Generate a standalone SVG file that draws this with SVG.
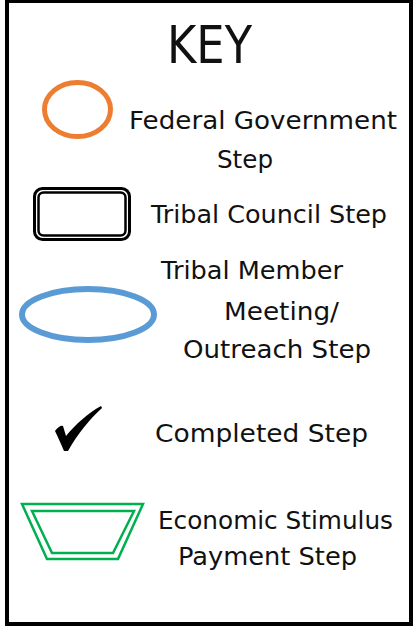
<svg xmlns="http://www.w3.org/2000/svg" width="417" height="626" viewBox="0 0 417 626">
<style>
.t{font-family:"DejaVu Sans","Liberation Sans",sans-serif;font-size:24px;fill:#111;}
.k{font-family:"DejaVu Sans","Liberation Sans",sans-serif;font-size:52px;fill:#111;}
</style>
<rect x="0" y="0" width="417" height="626" fill="#fff"/>
<g id="frame">
<rect x="7" y="1" width="404" height="623" fill="none" stroke="#000" stroke-width="4"/>
</g>
<g id="title">
<text class="k" x="167" y="63" textLength="85" lengthAdjust="spacingAndGlyphs">KEY</text>
</g>
<g id="federal">
<ellipse cx="77.5" cy="109.5" rx="33" ry="27" fill="none" stroke="#ED7D31" stroke-width="5"/>
<text class="t" x="129" y="129" textLength="268" lengthAdjust="spacingAndGlyphs">Federal Government</text>
<text class="t" x="217" y="168" textLength="56" lengthAdjust="spacingAndGlyphs">Step</text>
</g>
<g id="council">
<rect x="34.5" y="188.5" width="95" height="51" rx="8" fill="none" stroke="#000" stroke-width="3"/>
<rect x="38.5" y="192.5" width="87" height="43" rx="5" fill="none" stroke="#000" stroke-width="2.5"/>
<text class="t" x="151" y="223" textLength="236" lengthAdjust="spacingAndGlyphs">Tribal Council Step</text>
</g>
<g id="member">
<ellipse cx="88" cy="314.5" rx="66" ry="25.5" fill="none" stroke="#5B9BD5" stroke-width="6"/>
<text class="t" x="161" y="279" textLength="182" lengthAdjust="spacingAndGlyphs">Tribal Member</text>
<text class="t" x="224" y="320" textLength="115" lengthAdjust="spacingAndGlyphs">Meeting/</text>
<text class="t" x="183" y="358" textLength="188" lengthAdjust="spacingAndGlyphs">Outreach Step</text>
</g>
<g id="completed">
<path d="M55,431 C58,427 61,425 63,426 L66,436 C76,424 88,413 101,406 L102,408 C90,419 78,433 68,451 L64,451 C61,444 58,437 55,431 Z" fill="#000"/>
<text class="t" x="155" y="442" textLength="213" lengthAdjust="spacingAndGlyphs">Completed Step</text>
</g>
<g id="payment">
<polygon points="22,504 143,504 118,559 47,559" fill="none" stroke="#00B050" stroke-width="2.5"/>
<polygon points="32,511 134,511 113,553 52,553" fill="none" stroke="#00B050" stroke-width="2.5"/>
<text class="t" x="158" y="529" textLength="235" lengthAdjust="spacingAndGlyphs">Economic Stimulus</text>
<text class="t" x="178" y="565" textLength="179" lengthAdjust="spacingAndGlyphs">Payment Step</text>
</g>
<g id="connectors"></g>
</svg>
